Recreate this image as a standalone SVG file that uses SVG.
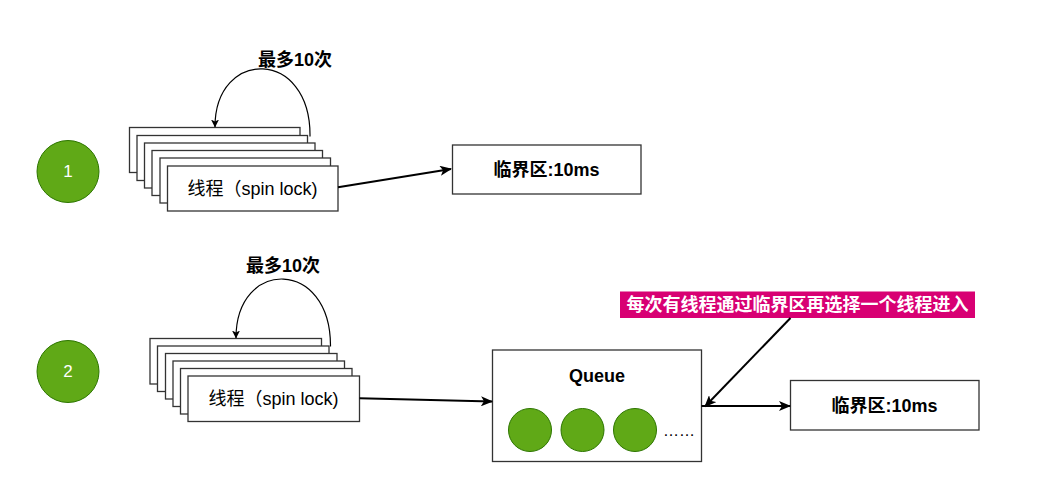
<svg xmlns="http://www.w3.org/2000/svg" width="1044" height="504" viewBox="0 0 1044 504">
<style>
.box{fill:#fff;stroke:#333;stroke-width:1.3}
.t{font-family:"Liberation Sans","Noto Sans CJK SC",sans-serif;font-size:18px;fill:#000;text-anchor:middle;dominant-baseline:central}
.b{font-weight:bold}
.num{font-family:"Liberation Sans",sans-serif;font-size:17px;fill:#fff;text-anchor:middle;dominant-baseline:central}
.gc{fill:#60a917;stroke:#2d7600;stroke-width:1}
.ln{fill:none;stroke:#000;stroke-width:2}
.cv{fill:none;stroke:#000;stroke-width:1.2}
</style>
<defs>
<marker id="ah" viewBox="0 0 12 10" refX="11" refY="5" markerWidth="12" markerHeight="10" markerUnits="userSpaceOnUse" orient="auto">
<path d="M0,0 L12,5 L0,10 L3,5 Z" fill="#000"/>
</marker>
<marker id="ahs" viewBox="0 0 8 8" refX="7.5" refY="4" markerWidth="8" markerHeight="8" markerUnits="userSpaceOnUse" orient="auto">
<path d="M0,0 L8,4 L0,8 L2,4 Z" fill="#000"/>
</marker>
</defs>
<rect width="1044" height="504" fill="#fff"/>

<g id="step1">
<circle class="gc" cx="68" cy="171.5" r="31"/>
<text class="num" x="68" y="171.5">1</text>
</g>
<g id="step2">
<circle class="gc" cx="68" cy="371.5" r="31"/>
<text class="num" x="68" y="371.5">2</text>
</g>

<g id="threads1">
<rect class="box" x="129.5" y="127.5" width="170.5" height="45"/>
<rect class="box" x="137" y="135.5" width="170.5" height="45"/>
<rect class="box" x="144.5" y="143" width="170.5" height="45"/>
<rect class="box" x="152" y="150.5" width="170.5" height="45"/>
<rect class="box" x="160" y="158" width="170.5" height="45"/>
<rect class="box" x="167.5" y="166" width="170.5" height="45"/>
<text class="t" x="252.5" y="188.5">线程（spin lock)</text>
</g>

<g id="threads2">
<rect class="box" x="150" y="338.5" width="171.5" height="45.5"/>
<rect class="box" x="157.5" y="346" width="171.5" height="45.5"/>
<rect class="box" x="165.5" y="353.5" width="171.5" height="45.5"/>
<rect class="box" x="173" y="361" width="171.5" height="45.5"/>
<rect class="box" x="180.5" y="368.5" width="171.5" height="45.5"/>
<rect class="box" x="188" y="376" width="171.5" height="45.5"/>
<text class="t" x="273.5" y="398.5">线程（spin lock)</text>
</g>

<g id="critical1">
<rect class="box" x="452.5" y="145" width="188.5" height="49"/>
<text class="t b" x="546.5" y="169.5">临界区:10ms</text>
</g>

<g id="queue">
<rect class="box" x="492.5" y="350" width="209" height="111.5"/>
<text class="t b" x="597" y="375.5">Queue</text>
<circle class="gc" cx="530" cy="430" r="21.5"/>
<circle class="gc" cx="582.5" cy="430" r="21.5"/>
<circle class="gc" cx="635" cy="430" r="21.5"/>
<text class="t" x="679" y="430" style="font-size:16px">……</text>
</g>

<g id="critical2">
<rect class="box" x="790.5" y="380.5" width="188.5" height="49.5"/>
<text class="t b" x="884.5" y="405.5">临界区:10ms</text>
</g>

<g id="note">
<rect x="620" y="291.5" width="355" height="26.5" fill="#d80073"/>
<text class="t b" x="797.5" y="304.5" style="fill:#fff">每次有线程通过临界区再选择一个线程进入</text>
</g>

<g id="labels">
<text class="t b" x="295" y="60">最多10次</text>
<text class="t b" x="283" y="266">最多10次</text>
</g>

<g id="connectors">
<path class="cv" d="M310,136.5 C311,48 215,48 215,127" marker-end="url(#ahs)"/>
<path class="cv" d="M330.5,346.5 C331,258 236,258 236,338" marker-end="url(#ahs)"/>
<path class="ln" d="M338,187.3 L451,169" marker-end="url(#ah)"/>
<path class="ln" d="M359.5,398.3 L492,401.5" marker-end="url(#ah)"/>
<path class="ln" d="M701.5,406 L790,406" marker-end="url(#ah)"/>
<path class="ln" d="M790.5,318 L705,406.5" marker-end="url(#ah)"/>
</g>
</svg>
